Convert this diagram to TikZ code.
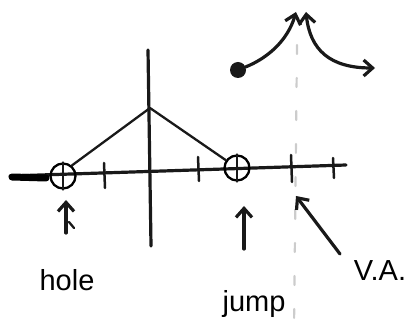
\documentclass[tikz,border=0pt]{standalone}
\usepackage{fontspec}
\setmainfont{Liberation Sans}
\usetikzlibrary{arrows.meta}
\begin{document}
\begin{tikzpicture}[x=1pt,y=-1pt, line cap=round, line join=round,
  ink/.style={line width=3.2pt, black!90},
  thinink/.style={line width=2.3pt, black!90},
  barb/.style={-{Straight Barb[length=9pt,width=16pt]}},
  tickmark/.style={line width=2.5pt, black!90},
  opencirc/.style={circle, draw, line width=2.3pt, minimum size=25pt, inner sep=0pt},
  lbl/.style={font=\fontsize{29}{31}\selectfont, anchor=base, inner sep=0pt}]
\useasboundingbox (0,0) rectangle (419,328);
% vertical asymptote (dashed, light)
\coordinate (vatop) at (297,45);
\coordinate (vabot) at (294,328);
\draw[gray!40, line width=2.2pt, dash pattern=on 9pt off 24pt] (vatop) -- (vabot);
% axes
\coordinate (xl) at (10,176);
\coordinate (xr) at (346,165);
\draw[ink] (xl) -- (xr);
\coordinate (thickl) at (12,177);
\coordinate (thickr) at (46,178);
\draw[line width=7pt] (thickl) -- (thickr);
\coordinate (yt) at (148,50);
\coordinate (yb) at (151,246);
\draw[ink] (yt) -- (yb);
% ticks
\coordinate (t1a) at (104,163); \coordinate (t1b) at (105,188);
\coordinate (t2a) at (198,157); \coordinate (t2b) at (199,181);
\coordinate (t3a) at (291,155); \coordinate (t3b) at (292,182);
\coordinate (t4a) at (333,158); \coordinate (t4b) at (334,178);
\draw[tickmark] (t1a) -- (t1b);
\draw[tickmark] (t2a) -- (t2b);
\draw[tickmark] (t3a) -- (t3b);
\draw[tickmark] (t4a) -- (t4b);
% hole and jump circles
\node[opencirc] (hole) at (63,176) {};
\draw[thinink] (hole.north) -- (hole.south);
\node[opencirc] (jump) at (237,168) {};
\draw[thinink] (jump.north) -- (jump.south);
% piecewise graph
\coordinate (peak) at (150,108);
\draw[thinink] (hole.50) -- (peak) -- (jump.145);
% filled dot and branches
\node[fill=black!90, circle, minimum size=16pt, inner sep=0pt] (dot) at (238,70) {};
\coordinate (uptipL) at (296,12);
\draw[ink, barb] (dot) .. controls (268,58) and (288,40) .. (uptipL);
\coordinate (uptipR) at (306,12);
\coordinate (rtip) at (375,68);
\draw[ink, {Straight Barb[length=9pt,width=16pt]}-{Straight Barb[length=9pt,width=16pt]}]
  (uptipR) .. controls (310,50) and (330,68) .. (rtip);
% pointer arrows
\coordinate (holetail) at (66,233);
\coordinate (holehead) at (66,200);
\draw[ink, barb] (holetail) -- (holehead);
\coordinate (marka) at (69,222);
\coordinate (markb) at (74,228);
\draw[thinink] (marka) -- (markb);
\coordinate (jumptail) at (244,249);
\coordinate (jumphead) at (244,206);
\draw[ink, barb] (jumptail) -- (jumphead);
\coordinate (vatail) at (340,254);
\coordinate (vahead) at (296,196);
\draw[ink, barb] (vatail) -- (vahead);
% labels
\node[lbl] (lhole) at (67,290) {hole};
\node[lbl] (ljump) at (254,311) {jump};
\node[lbl] (lva) at (380,280) {V.A.};
\end{tikzpicture}
\end{document}
